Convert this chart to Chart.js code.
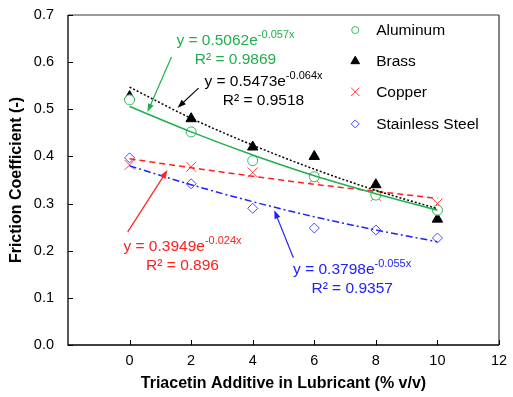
<!DOCTYPE html>
<html>
<head>
<meta charset="utf-8">
<script src="https://cdn.jsdelivr.net/npm/chart.js@4.4.1/dist/chart.umd.min.js"></script>
<style>
  html, body { margin: 0; padding: 0; background: #fff; }
  #wrap { width: 513px; height: 397px; }
</style>
</head>
<body>
<div id="wrap"><canvas id="grafico" width="513" height="397"></canvas></div>
<script>
// Dados
const additive = [0, 2, 4, 6, 8, 10];
const aluminum = [0.52, 0.452, 0.391, 0.357, 0.318, 0.286];
const brass = [0.527, 0.48, 0.42, 0.40, 0.34, 0.267];
const copper = [0.382, 0.378, 0.366, 0.354, 0.316, 0.30];
const stainless = [0.397, 0.342, 0.29, 0.248, 0.244, 0.227];

// Linhas de tendência (exponenciais)
const aluminumTrend = [0.506, 0.452, 0.403, 0.359, 0.321, 0.286];
const brassTrend = [0.547, 0.481, 0.424, 0.373, 0.328, 0.289];
const copperTrend = [0.395, 0.376, 0.358, 0.341, 0.326, 0.311];
const stainlessTrend = [0.380, 0.340, 0.304, 0.272, 0.244, 0.219];

const xTicks = [0, 2, 4, 6, 8, 10, 12];
const yTicks = [0, 0.1, 0.2, 0.3, 0.4, 0.5, 0.6, 0.7];

const seriesNames = ["Aluminum", "Brass", "Copper", "Stainless Steel"];

// Equações das tendências: [texto, expoente, R²]
const equations = [
  ["y = 0.5062e", "-0.057x", "R² = 0.9869"],
  ["y = 0.5473e", "-0.064x", "R² = 0.9518"],
  ["y = 0.3949e", "-0.024x", "R² = 0.896"],
  ["y = 0.3798e", "-0.055x", "R² = 0.9357"],
];
// posição do texto (centro, unidades de dados) e das setas
const eqPos = [[3.44, 0.645], [4.35, 0.558], [1.72, 0.208], [7.23, 0.159]];
const arrowFrom = [[1.36, 0.611], [2.24, 0.545], [-0.06, 0.240], [5.32, 0.185]];
const arrowTo = [[0.58, 0.494], [1.56, 0.503], [1.23, 0.371], [4.70, 0.286]];

const green = "#1fb04c";
const black = "#000000";
const red = "#ff2020";
const blue = "#2020ff";
const colors = [green, black, red, blue];

function pts(ys) {
  return additive.map((x, i) => ({ x: x, y: ys[i] }));
}

const FONT = "'Liberation Sans', Arial, sans-serif";

const markerStyles = [
  { pointStyle: "circle", radius: 5, borderColor: "#2dbb5e", backgroundColor: "#ffffff", borderWidth: 1 },
  { pointStyle: "triangle", radius: 6, borderColor: black, backgroundColor: black, borderWidth: 1 },
  { pointStyle: "crossRot", radius: 7, borderColor: "#ff4040", backgroundColor: "#ff4040", borderWidth: 1 },
  { pointStyle: "rectRot", radius: 5, borderColor: "#4848ff", backgroundColor: "#ffffff", borderWidth: 1 },
];

const markerData = [aluminum, brass, copper, stainless];
const trendData = [aluminumTrend, brassTrend, copperTrend, stainlessTrend];
const trendDash = [[], [2, 2], [6, 4], [7, 3, 2, 3]];

const datasets = [];
trendData.forEach((d, i) => {
  datasets.push({
    label: seriesNames[i] + " trend",
    data: pts(d),
    showLine: true,
    borderColor: colors[i],
    borderWidth: 1.5,
    borderDash: trendDash[i],
    pointRadius: 0,
    cubicInterpolationMode: "monotone",
    fill: false,
  });
});
markerData.forEach((d, i) => {
  const m = markerStyles[i];
  datasets.push({
    label: seriesNames[i],
    data: pts(d),
    showLine: false,
    pointStyle: m.pointStyle,
    pointRadius: m.radius,
    pointBorderColor: m.borderColor,
    pointBackgroundColor: m.backgroundColor,
    pointBorderWidth: m.borderWidth,
  });
});

// Plugin: moldura, ticks internos, legenda, equações e setas
const extras = {
  id: "extras",
  afterDatasetsDraw(chart) {
    const ctx = chart.ctx;
    const a = chart.chartArea;
    const xs = chart.scales.x;
    const ys = chart.scales.y;
    ctx.save();

    // moldura
    ctx.lineWidth = 1.3;
    ctx.strokeStyle = "#7a7a7a";
    ctx.beginPath();
    ctx.moveTo(a.left, a.top);
    ctx.lineTo(a.right, a.top);
    ctx.stroke();
    ctx.strokeStyle = "#404040";
    ctx.beginPath();
    ctx.moveTo(a.right, a.top);
    ctx.lineTo(a.right, a.bottom);
    ctx.stroke();
    ctx.strokeStyle = "#000";
    ctx.beginPath();
    ctx.moveTo(a.left, a.top);
    ctx.lineTo(a.left, a.bottom);
    ctx.lineTo(a.right, a.bottom);
    ctx.stroke();

    // ticks internos
    ctx.lineWidth = 1;
    ctx.beginPath();
    xTicks.forEach((v) => {
      const px = Math.round(xs.getPixelForValue(v)) + 0.5;
      ctx.moveTo(px, a.bottom);
      ctx.lineTo(px, a.bottom - 5);
    });
    yTicks.forEach((v) => {
      const py = Math.round(ys.getPixelForValue(v)) + 0.5;
      ctx.moveTo(a.left, py);
      ctx.lineTo(a.left + 5, py);
    });
    ctx.stroke();

    // legenda
    const legMarkerX = xs.getPixelForValue(7.33);
    const legTextX = xs.getPixelForValue(8.01);
    const legRows = [0.668, 0.602, 0.537, 0.469];
    const legRadius = [3.5, 5, 6, 4];
    ctx.font = "15.5px " + FONT;
    ctx.textAlign = "left";
    ctx.textBaseline = "middle";
    seriesNames.forEach((name, i) => {
      const py = ys.getPixelForValue(legRows[i]);
      const m = markerStyles[i];
      ctx.strokeStyle = m.borderColor;
      ctx.fillStyle = m.backgroundColor;
      ctx.lineWidth = 1;
      Chart.helpers.drawPoint(ctx, { pointStyle: m.pointStyle, radius: legRadius[i], borderWidth: 1 }, legMarkerX, py);
      ctx.fillStyle = "#000";
      ctx.fillText(name, legTextX, py + 1);
    });

    // equações e setas
    equations.forEach((eq, i) => {
      const cx = xs.getPixelForValue(eqPos[i][0]);
      const cy = ys.getPixelForValue(eqPos[i][1]);
      ctx.fillStyle = colors[i];
      ctx.textBaseline = "middle";
      ctx.font = "15.5px " + FONT;
      const w1 = ctx.measureText(eq[0]).width;
      ctx.font = "11px " + FONT;
      const w2 = ctx.measureText(eq[1]).width;
      const left = cx - (w1 + w2) / 2;
      ctx.font = "15.5px " + FONT;
      ctx.textAlign = "left";
      ctx.fillText(eq[0], left, cy);
      ctx.font = "11px " + FONT;
      ctx.fillText(eq[1], left + w1, cy - 6);
      ctx.font = "15.5px " + FONT;
      ctx.textAlign = "center";
      ctx.fillText(eq[2], cx, cy + 19);

      const x1 = xs.getPixelForValue(arrowFrom[i][0]);
      const y1 = ys.getPixelForValue(arrowFrom[i][1]);
      const x2 = xs.getPixelForValue(arrowTo[i][0]);
      const y2 = ys.getPixelForValue(arrowTo[i][1]);
      const ang = Math.atan2(y2 - y1, x2 - x1);
      const hl = 9;
      ctx.strokeStyle = colors[i];
      ctx.lineWidth = 1.2;
      ctx.beginPath();
      ctx.moveTo(x1, y1);
      ctx.lineTo(x2 - Math.cos(ang) * hl * 0.8, y2 - Math.sin(ang) * hl * 0.8);
      ctx.stroke();
      ctx.beginPath();
      ctx.moveTo(x2, y2);
      ctx.lineTo(x2 - hl * Math.cos(ang - 0.35), y2 - hl * Math.sin(ang - 0.35));
      ctx.lineTo(x2 - hl * Math.cos(ang + 0.35), y2 - hl * Math.sin(ang + 0.35));
      ctx.closePath();
      ctx.fill();
    });

    ctx.restore();
  },
};

new Chart(document.getElementById("grafico").getContext("2d"), {
  type: "scatter",
  data: { datasets: datasets },
  plugins: [extras],
  options: {
    responsive: false,
    animation: false,
    layout: { padding: { top: 15, right: 14, left: 0, bottom: 0 } },
    plugins: {
      legend: { display: false },
      tooltip: { enabled: false },
    },
    scales: {
      x: {
        type: "linear",
        min: -2,
        max: 12,
        afterFit: (s) => { s.height = 52; s.paddingLeft = 0; s.paddingRight = 0; },
        afterBuildTicks: (s) => { s.ticks = [-2].concat(xTicks).map((v) => ({ value: v })); },
        grid: { display: false, drawTicks: false },
        border: { display: false },
        ticks: {
          padding: 7,
          color: "#000",
          font: { family: FONT, size: 14.5 },
          callback: (v) => (v < 0 ? "" : String(v)),
        },
        title: {
          display: true,
          text: "Triacetin Additive in Lubricant (% v/v)",
          color: "#000",
          font: { family: FONT, size: 16, weight: "bold" },
          padding: { top: 2, bottom: 4 },
        },
      },
      y: {
        type: "linear",
        min: 0,
        max: 0.7,
        afterFit: (s) => { s.width = 68; s.paddingTop = 0; s.paddingBottom = 0; },
        afterBuildTicks: (s) => { s.ticks = yTicks.map((v) => ({ value: v })); },
        grid: { display: false, drawTicks: false },
        border: { display: false },
        ticks: {
          padding: 14,
          color: "#000",
          font: { family: FONT, size: 14.5 },
          callback: (v) => Number(v).toFixed(1),
        },
        title: {
          display: true,
          text: "Friction Coefficient (-)",
          color: "#000",
          font: { family: FONT, size: 16, weight: "bold" },
          padding: { top: 7, bottom: 2 },
        },
      },
    },
  },
});
</script>
</body>
</html>
